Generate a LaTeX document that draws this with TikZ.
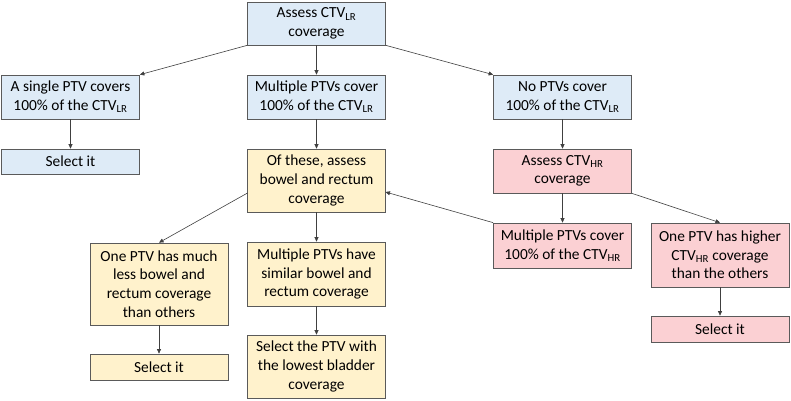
\documentclass[tikz,border=0pt]{standalone}
\usepackage{fontspec}
\setmainfont{Carlito}
\usetikzlibrary{arrows.meta}
\definecolor{lrblue}{HTML}{DEEBF7}
\definecolor{bwyellow}{HTML}{FFF2CC}
\definecolor{hrpink}{HTML}{FBD0D3}
\definecolor{boxline}{HTML}{5A5A5A}
\begin{document}
\begin{tikzpicture}[x=1pt,y=-1pt,
	lrbox/.style={fill=lrblue},
	bwbox/.style={fill=bwyellow},
	hrbox/.style={fill=hrpink}]
			\useasboundingbox (0,0) rectangle (791,400);
			\begin{scope}[every node/.style={rectangle,draw=boxline,line width=0.7pt,minimum width=138pt,inner sep=0pt,align=center,font=\fontsize{15.4}{18.6}\selectfont}]
			\node[lrbox,minimum height=43pt]	(assessLR) at (316.5, 23.5) 	{Assess CTV\textsubscript{LR}\\coverage};
			
			\node[lrbox,minimum height=44pt]	(single) at (70.5, 97) 	{A single PTV covers\\100\% of the CTV\textsubscript{LR}};
			\node[lrbox,minimum height=44pt]	(multi) at (316.5, 97) 	{Multiple PTVs cover\\100\% of the CTV\textsubscript{LR}};
			\node[lrbox,minimum height=44pt]	(noPTV) at (562.5, 97) 	{No PTVs cover\\100\% of the CTV\textsubscript{LR}};
			
			\node[lrbox,minimum height=25pt]	(selA) at (70.5, 161.5) 	{Select it};
			\node[bwbox,minimum height=63pt]	(bowel) at (316.5, 180.5) 	{Of these, assess\\bowel and rectum\\coverage};
			\node[hrbox,minimum height=44pt]	(assessHR) at (562.5, 171) 	{Assess CTV\textsubscript{HR}\\coverage};
			
			\node[bwbox,minimum height=82pt]	(muchless) at (159, 284) 	{One PTV has much\\less bowel and\\rectum coverage\\than others};
			\node[bwbox,minimum height=64pt]	(similar) at (316.5, 274) 	{Multiple PTVs have\\similar bowel and\\rectum coverage};
			\node[hrbox,minimum height=45pt]	(multiHR) at (562.5, 245.5) 	{Multiple PTVs cover\\100\% of the CTV\textsubscript{HR}};
			\node[hrbox,minimum height=64pt]	(higher) at (720, 255) 	{One PTV has higher\\CTV\textsubscript{HR} coverage\\than the others};
			
			\node[bwbox,minimum height=26pt]	(selB) at (159, 367) 	{Select it};
			\node[bwbox,minimum height=63pt]	(lowest) at (316.5, 366.5) 	{Select the PTV with\\the lowest bladder\\coverage};
			\node[hrbox,minimum height=26pt]	(selC) at (720, 329) 	{Select it};
			\end{scope}
			
			\coordinate (bowelout) at (247.5, 193);
			\coordinate (bowelin) at (385.5, 192);
			
			\begin{scope}[-{Triangle[length=4.5pt,width=4pt]},draw=black!75,line width=0.6pt]
			\path (assessLR.south west) edge (single.north east);
			\path (assessLR) edge (multi);
			\path (assessLR.south east) edge (noPTV.north west);
			
			\path (single) edge (selA);
			\path (multi) edge (bowel);
			\path (noPTV) edge (assessHR);
			
			\path (bowelout) edge (muchless.north);
			\path (bowel) edge (similar);
			\path (assessHR) edge (multiHR);
			\path (assessHR.south east) edge (higher.north);
			\path (multiHR.north west) edge (bowelin);
			
			\path (muchless) edge (selB);
			\path (similar) edge (lowest);
			\path (higher) edge (selC);
			\end{scope}
			\end{tikzpicture}
\end{document}
